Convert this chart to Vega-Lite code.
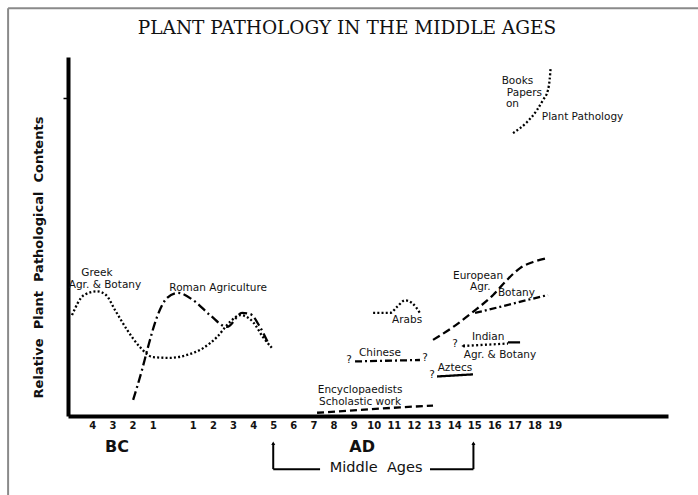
{
  "$schema": "https://vega.github.io/schema/vega-lite/v6.json",
  "width": 600,
  "height": 359,
  "autosize": {"type": "none"},
  "padding": {"left": 68, "top": 57, "right": 30, "bottom": 79},
  "background": "white",
  "config": {"view": {"stroke": null}},
  "datasets": {
    "lines": [
      {"s": "Greek", "i": 1, "x": -1.01, "y": 28.1},
      {"s": "Greek", "i": 2, "x": -0.41, "y": 33.7},
      {"s": "Greek", "i": 3, "x": 0.23, "y": 34.7},
      {"s": "Greek", "i": 4, "x": 0.68, "y": 33.7},
      {"s": "Greek", "i": 5, "x": 1.13, "y": 29.5},
      {"s": "Greek", "i": 6, "x": 1.73, "y": 24.0},
      {"s": "Greek", "i": 7, "x": 2.37, "y": 19.2},
      {"s": "Greek", "i": 8, "x": 3.02, "y": 16.4},
      {"s": "Greek", "i": 9, "x": 3.87, "y": 16.2},
      {"s": "Greek", "i": 10, "x": 4.71, "y": 17.0},
      {"s": "Greek", "i": 11, "x": 5.51, "y": 18.9},
      {"s": "Greek", "i": 12, "x": 6.20, "y": 22.0},
      {"s": "Greek", "i": 13, "x": 6.85, "y": 26.2},
      {"s": "Greek", "i": 14, "x": 7.35, "y": 28.1},
      {"s": "Greek", "i": 15, "x": 7.99, "y": 26.2},
      {"s": "Greek", "i": 16, "x": 8.49, "y": 22.0},
      {"s": "Greek", "i": 17, "x": 8.94, "y": 18.9},
      {"s": "Roman", "i": 1, "x": 2.03, "y": 4.5},
      {"s": "Roman", "i": 2, "x": 2.47, "y": 12.8},
      {"s": "Roman", "i": 3, "x": 2.77, "y": 19.2},
      {"s": "Roman", "i": 4, "x": 3.22, "y": 27.6},
      {"s": "Roman", "i": 5, "x": 3.72, "y": 32.9},
      {"s": "Roman", "i": 6, "x": 4.26, "y": 34.3},
      {"s": "Roman", "i": 7, "x": 5.01, "y": 32.3},
      {"s": "Roman", "i": 8, "x": 5.86, "y": 28.1},
      {"s": "Roman", "i": 9, "x": 6.70, "y": 24.8},
      {"s": "Roman", "i": 10, "x": 7.45, "y": 28.7},
      {"s": "Roman", "i": 11, "x": 7.85, "y": 28.4},
      {"s": "Roman", "i": 12, "x": 8.34, "y": 24.8},
      {"s": "Roman", "i": 13, "x": 8.79, "y": 19.8},
      {"s": "Arabs", "i": 1, "x": 13.97, "y": 28.7},
      {"s": "Arabs", "i": 2, "x": 14.81, "y": 28.7},
      {"s": "Arabs", "i": 3, "x": 15.16, "y": 30.4},
      {"s": "Arabs", "i": 4, "x": 15.56, "y": 32.2},
      {"s": "Arabs", "i": 5, "x": 15.9, "y": 31.5},
      {"s": "Arabs", "i": 6, "x": 16.3, "y": 28.7},
      {"s": "Chinese", "i": 1, "x": 13.07, "y": 15.2},
      {"s": "Chinese", "i": 2, "x": 16.3, "y": 15.6},
      {"s": "Aztecs", "i": 1, "x": 17.15, "y": 11.0},
      {"s": "Aztecs", "i": 2, "x": 18.94, "y": 11.6},
      {"s": "Encyclopaedists", "i": 1, "x": 11.18, "y": 0.9},
      {"s": "Encyclopaedists", "i": 2, "x": 13.32, "y": 1.7},
      {"s": "Encyclopaedists", "i": 3, "x": 15.31, "y": 2.4},
      {"s": "Encyclopaedists", "i": 4, "x": 16.95, "y": 2.9},
      {"s": "European", "i": 1, "x": 16.95, "y": 21.2},
      {"s": "European", "i": 2, "x": 17.95, "y": 24.8},
      {"s": "European", "i": 3, "x": 18.94, "y": 29.0},
      {"s": "European", "i": 4, "x": 19.94, "y": 33.7},
      {"s": "European", "i": 5, "x": 20.63, "y": 37.9},
      {"s": "European", "i": 6, "x": 21.28, "y": 41.2},
      {"s": "European", "i": 7, "x": 21.93, "y": 42.9},
      {"s": "European", "i": 8, "x": 22.62, "y": 44.0},
      {"s": "Botany", "i": 1, "x": 19.04, "y": 28.7},
      {"s": "Botany", "i": 2, "x": 20.28, "y": 30.4},
      {"s": "Botany", "i": 3, "x": 21.63, "y": 32.3},
      {"s": "Botany", "i": 4, "x": 22.67, "y": 33.7},
      {"s": "Indian", "i": 1, "x": 18.44, "y": 19.5},
      {"s": "Indian", "i": 2, "x": 20.68, "y": 20.2},
      {"s": "Indian late", "i": 1, "x": 20.68, "y": 20.5},
      {"s": "Indian late", "i": 2, "x": 21.28, "y": 20.5},
      {"s": "Books", "i": 1, "x": 20.93, "y": 78.8},
      {"s": "Books", "i": 2, "x": 21.63, "y": 81.9},
      {"s": "Books", "i": 3, "x": 22.12, "y": 85.2},
      {"s": "Books", "i": 4, "x": 22.42, "y": 88.0},
      {"s": "Books", "i": 5, "x": 22.67, "y": 90.8},
      {"s": "Books", "i": 6, "x": 22.75, "y": 93.6},
      {"s": "Books", "i": 7, "x": 22.8, "y": 96.9}
    ],
    "labels": [
      {"t": "Greek", "x": 0.23, "y": 39.8},
      {"t": "Agr. & Botany", "x": 0.63, "y": 36.5},
      {"t": "Roman Agriculture", "x": 6.26, "y": 35.7},
      {"t": "Arabs", "x": 15.66, "y": 26.7},
      {"t": "?", "x": 12.77, "y": 15.6},
      {"t": "Chinese", "x": 14.31, "y": 17.6},
      {"t": "?", "x": 16.55, "y": 16.2},
      {"t": "?", "x": 16.9, "y": 11.4},
      {"t": "Aztecs", "x": 18.04, "y": 13.4},
      {"t": "Encyclopaedists", "x": 13.32, "y": 7.2},
      {"t": "Scholastic  work", "x": 13.32, "y": 4.0},
      {"t": "European", "x": 19.19, "y": 38.9},
      {"t": "Agr.", "x": 19.3, "y": 36.0},
      {"t": "Botany", "x": 21.1, "y": 34.2},
      {"t": "Indian", "x": 19.69, "y": 22.0},
      {"t": "?", "x": 18.04, "y": 20.1},
      {"t": "Agr. & Botany", "x": 20.28, "y": 17.0},
      {"t": "Books", "x": 21.15, "y": 93.2},
      {"t": "Papers", "x": 21.5, "y": 90.1},
      {"t": "on", "x": 20.9, "y": 86.9},
      {"t": "Plant  Pathology", "x": 24.39, "y": 83.4}
    ],
    "border": [
      {"x": -4.19, "y": -22.0, "x2": -4.19, "y2": 113.6},
      {"x": -4.19, "y": 113.6, "x2": 30.2, "y2": 113.6}
    ],
    "bracket": [
      {"x": 9.0, "y": -14.8, "x2": 9.0, "y2": -7.6},
      {"x": 9.0, "y": -14.8, "x2": 11.33, "y2": -14.8},
      {"x": 16.8, "y": -14.8, "x2": 18.96, "y2": -14.8},
      {"x": 18.96, "y": -14.8, "x2": 18.96, "y2": -7.6}
    ]
  },
  "encoding": {
    "x": {
      "field": "x", "type": "quantitative",
      "scale": {"domain": [-1.21, 28.64], "nice": false, "zero": false},
      "axis": {
        "title": null,
        "values": [0, 1, 2, 3, 5, 6, 7, 8, 9, 10, 11, 12, 13, 14, 15, 16, 17, 18, 19, 20, 21, 22, 23],
        "labelExpr": "datum.value < 4 ? 4 - datum.value : datum.value - 4",
        "ticks": false,
        "grid": false,
        "domainColor": "black",
        "domainWidth": 4,
        "labelFont": "DejaVu Sans",
        "labelFontSize": 10,
        "labelFontWeight": "bold",
        "labelColor": "#111",
        "labelPadding": 4,
        "labelFlush": false,
        "labelOverlap": false
      }
    },
    "y": {
      "field": "y", "type": "quantitative",
      "scale": {"domain": [0, 100], "nice": false, "zero": false},
      "axis": {
        "title": "Relative\u00a0\u00a0Plant\u00a0\u00a0Pathological\u00a0\u00a0Contents",
        "titleFont": "DejaVu Sans",
        "titleFontSize": 13,
        "titleFontWeight": "bold",
        "titleColor": "#111",
        "titleX": -30,
        "titleY": 200,
        "titleBaseline": "middle",
        "titleAngle": -90,
        "values": [88.6],
        "labels": false,
        "ticks": true,
        "tickSize": 5,
        "tickWidth": 1.5,
        "tickColor": "black",
        "grid": false,
        "domainColor": "black",
        "domainWidth": 4
      }
    }
  },
  "layer": [
    {
      "data": {"name": "border"},
      "mark": {"type": "rule", "color": "#8a8a8a", "strokeWidth": 2},
      "encoding": {"x2": {"field": "x2"}, "y2": {"field": "y2"}}
    },
    {
      "data": {"values": [{"t": "PLANT PATHOLOGY IN THE MIDDLE AGES", "x": 12.67, "y": 108.1}]},
      "mark": {"type": "text", "font": "DejaVu Serif", "fontSize": 18.5, "color": "#111", "align": "center", "baseline": "middle"},
      "encoding": {"text": {"field": "t"}}
    },
    {
      "data": {"name": "lines"},
      "mark": {"type": "line", "interpolate": "monotone", "color": "black", "strokeWidth": 2.3},
      "encoding": {
        "detail": {"field": "s"},
        "order": {"field": "i", "type": "quantitative"},
        "strokeDash": {
          "field": "s", "type": "nominal", "legend": null,
          "scale": {
            "domain": ["Greek", "Roman", "Arabs", "Chinese", "Aztecs", "Encyclopaedists", "European", "Botany", "Indian", "Indian late", "Books"],
            "range": [[2, 2.2], [9, 3.5, 2, 3.5], [2, 2.2], [7, 3, 2, 3], [1, 0], [7, 4], [8, 4], [7, 3, 2, 3], [2, 2.4], [1, 0], [2, 2.2]]
          }
        }
      }
    },
    {
      "data": {"values": [{"x": 18.44, "y": 19.5}]},
      "mark": {"type": "point", "shape": "triangle-left", "filled": true, "color": "black", "size": 14, "opacity": 1}
    },
    {
      "data": {"values": [{"x": 9.0, "y": -7.6}, {"x": 18.96, "y": -7.6}]},
      "mark": {"type": "point", "shape": "triangle-up", "filled": true, "color": "black", "size": 16, "opacity": 1}
    },
    {
      "data": {"name": "bracket"},
      "mark": {"type": "rule", "color": "black", "strokeWidth": 2},
      "encoding": {"x2": {"field": "x2"}, "y2": {"field": "y2"}}
    },
    {
      "data": {"name": "labels"},
      "mark": {"type": "text", "font": "DejaVu Sans", "fontSize": 10.5, "color": "#111", "align": "center", "baseline": "middle"},
      "encoding": {"text": {"field": "t"}}
    },
    {
      "data": {"values": [{"t": "BC", "x": 1.23, "y": -8.6}, {"t": "AD", "x": 13.42, "y": -8.6}]},
      "mark": {"type": "text", "font": "DejaVu Sans", "fontSize": 16, "fontWeight": "bold", "color": "#111", "align": "center", "baseline": "middle"},
      "encoding": {"text": {"field": "t"}}
    },
    {
      "data": {"values": [{"t": "Middle\u00a0\u00a0Ages", "x": 14.12, "y": -14.4}]},
      "mark": {"type": "text", "font": "DejaVu Sans", "fontSize": 14.5, "color": "#111", "align": "center", "baseline": "middle"},
      "encoding": {"text": {"field": "t"}}
    }
  ]
}
